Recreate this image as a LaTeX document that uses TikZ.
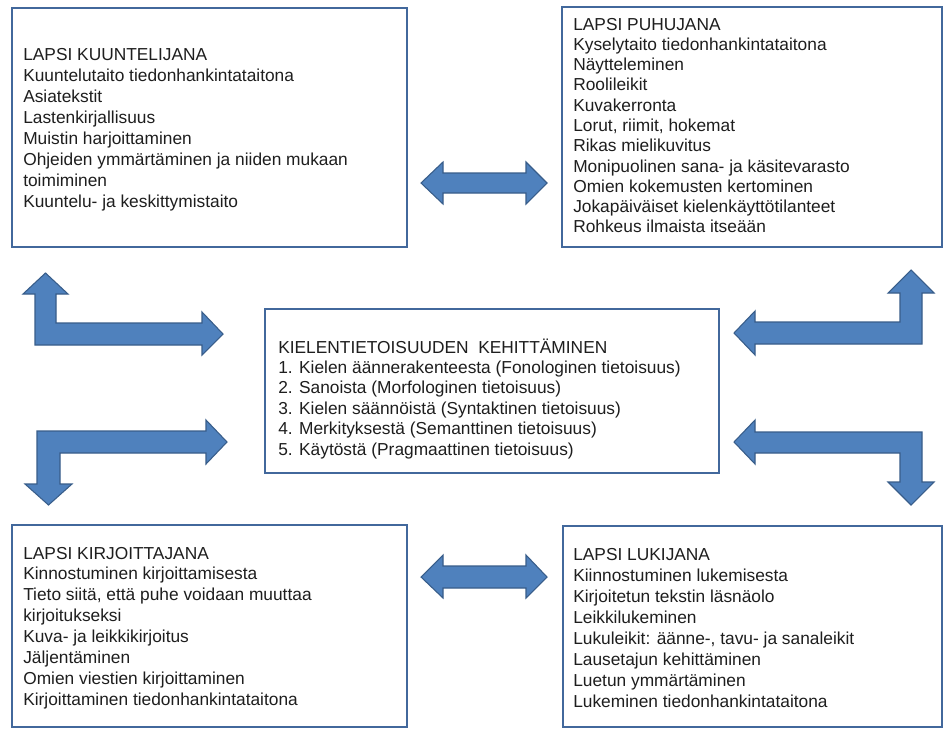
\documentclass[tikz,border=0pt]{standalone}
\usepackage{fontspec}
\setmainfont{Liberation Sans}
\usetikzlibrary{fit}
\definecolor{boxline}{RGB}{66,104,156}
\definecolor{arrfill}{RGB}{79,129,189}
\definecolor{arrline}{RGB}{56,93,138}
\definecolor{txt}{RGB}{30,30,30}
\begin{document}
\begin{tikzpicture}[x=0.75pt,y=-0.75pt,
  box/.style={draw=boxline, line width=1.4pt, inner sep=0pt, fill=white},
  txtblk/.style={anchor=base west, inner sep=0pt, text=txt, font=\fontsize{13pt}{15.75pt}\selectfont},
  blockarrow/.style={fill=arrfill, draw=arrline, line width=0.8pt, line join=miter}]
\useasboundingbox (0,0) rectangle (944,729);
\fill[white] (0,0) rectangle (944,729);

% boxes
\node[box, fit={(12,8) (407,247)}] (b1) {};
\node[box, fit={(562,7) (942,247)}] (b2) {};
\node[box, fit={(265,309) (719,473)}] (bc) {};
\node[box, fit={(12,525) (407,727)}] (b3) {};
\node[box, fit={(563,526) (942,727)}] (b4) {};

% texts
\node[txtblk] (t1) at (23,60) {\vtop{\baselineskip=15.75pt
\hbox{LAPSI KUUNTELIJANA}
\hbox{Kuuntelutaito tiedonhankintataitona}
\hbox{Asiatekstit}
\hbox{Lastenkirjallisuus}
\hbox{Muistin harjoittaminen}
\hbox{Ohjeiden ymmärtäminen ja niiden mukaan}
\hbox{toimiminen}
\hbox{Kuuntelu- ja keskittymistaito}}};

\node[txtblk] (t2) at (573,30) {\vtop{\baselineskip=15.22pt
\hbox{LAPSI PUHUJANA}
\hbox{Kyselytaito tiedonhankintataitona}
\hbox{Näytteleminen}
\hbox{Roolileikit}
\hbox{Kuvakerronta}
\hbox{Lorut, riimit, hokemat}
\hbox{Rikas mielikuvitus}
\hbox{Monipuolinen sana- ja käsitevarasto}
\hbox{Omien kokemusten kertominen}
\hbox{Jokapäiväiset kielenkäyttötilanteet}
\hbox{Rohkeus ilmaista itseään}}};

\node[txtblk] (tc) at (278,353) {\vtop{\baselineskip=15.3pt
\hbox{KIELENTIETOISUUDEN\ \ KEHITTÄMINEN}
\hbox{1. Kielen äännerakenteesta (Fonologinen tietoisuus)}
\hbox{2. Sanoista (Morfologinen tietoisuus)}
\hbox{3. Kielen säännöistä (Syntaktinen tietoisuus)}
\hbox{4. Merkityksestä (Semanttinen tietoisuus)}
\hbox{5. Käytöstä (Pragmaattinen tietoisuus)}}};

\node[txtblk] (t3) at (23,559) {\vtop{\baselineskip=15.68pt
\hbox{LAPSI KIRJOITTAJANA}
\hbox{Kinnostuminen kirjoittamisesta}
\hbox{Tieto siitä, että puhe voidaan\ muuttaa}
\hbox{kirjoitukseksi}
\hbox{Kuva-\ ja leikkikirjoitus}
\hbox{Jäljentäminen}
\hbox{Omien viestien kirjoittaminen}
\hbox{Kirjoittaminen tiedonhankintataitona}}};

\node[txtblk] (t4) at (573,560) {\vtop{\baselineskip=15.75pt
\hbox{LAPSI LUKIJANA}
\hbox{Kiinnostuminen lukemisesta}
\hbox{Kirjoitetun tekstin läsnäolo}
\hbox{Leikkilukeminen}
\hbox{Lukuleikit: äänne-, tavu- ja sanaleikit}
\hbox{Lausetajun kehittäminen}
\hbox{Luetun ymmärtäminen}
\hbox{Lukeminen tiedonhankintataitona}}};

% double arrows
\draw[blockarrow] (421,183) -- (443,162) -- (443,173) -- (526,173) -- (526,162) -- (547,183) -- (526,204) -- (526,193) -- (443,193) -- (443,204) -- cycle;
\draw[blockarrow] (421,577) -- (443,555) -- (443,566) -- (526,566) -- (526,555) -- (547,577) -- (526,598) -- (526,588) -- (443,588) -- (443,598) -- cycle;

% left bent arrows
\draw[blockarrow] (45.5,273) -- (68,294) -- (56,294) -- (56,323) -- (202,323) -- (202,312) -- (223,334) -- (202,355) -- (202,345) -- (35,345) -- (35,294) -- (23,294) -- cycle;
\draw[blockarrow] (37,431) -- (206,431) -- (206,420) -- (227,442) -- (206,464) -- (206,453) -- (60,453) -- (60,484) -- (72,484) -- (48.5,505) -- (25,484) -- (37,484) -- cycle;

% right bent arrows
\draw[blockarrow] (734,333) -- (755,311) -- (755,322) -- (900,322) -- (900,293) -- (888,293) -- (911,270) -- (934,293) -- (922,293) -- (922,344) -- (755,344) -- (755,355) -- cycle;
\draw[blockarrow] (734,442) -- (755,420) -- (755,432) -- (922,432) -- (922,482) -- (934,482) -- (911,505) -- (888,482) -- (900,482) -- (900,453) -- (755,453) -- (755,464) -- cycle;
\end{tikzpicture}
\end{document}
